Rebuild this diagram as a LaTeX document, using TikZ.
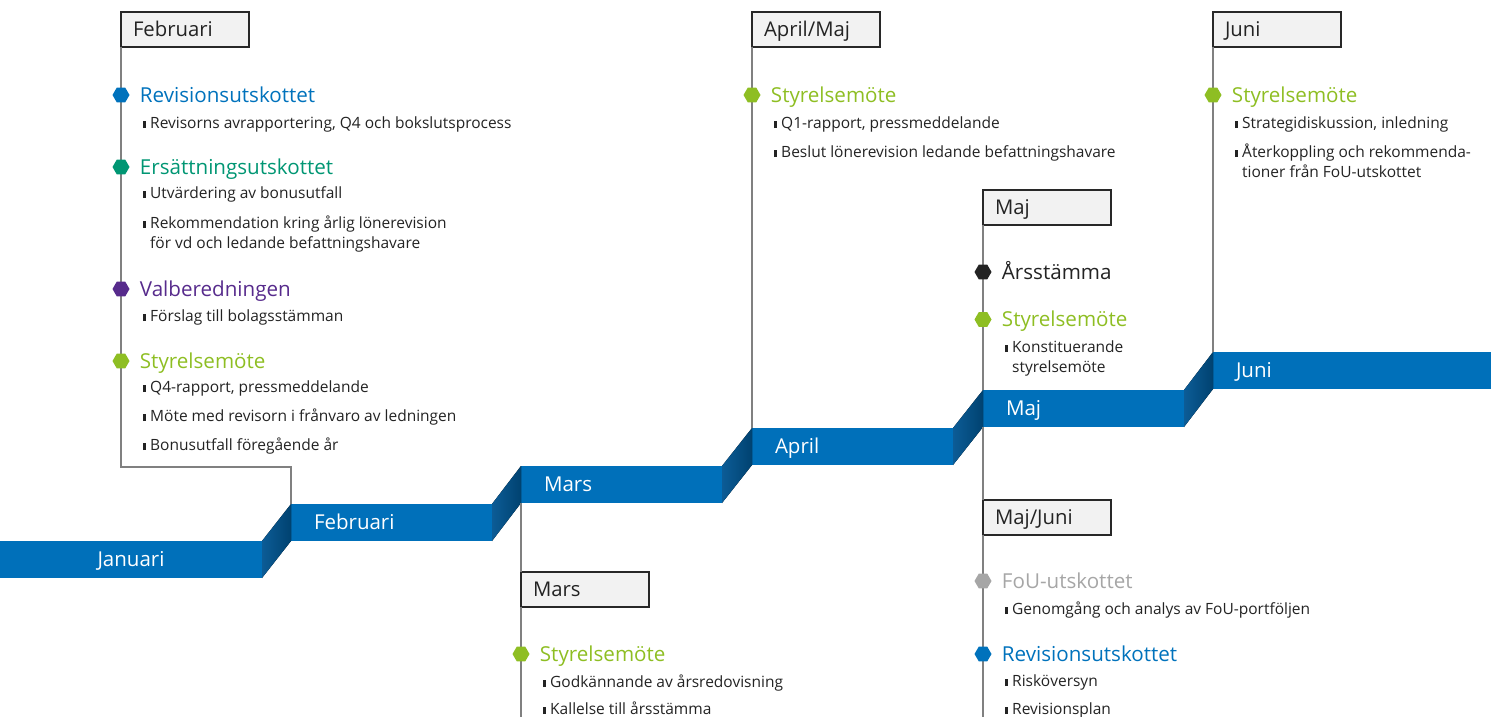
\documentclass[tikz,border=0pt]{standalone}
\usepackage{fontspec}
\setmainfont{Open Sans}
\usetikzlibrary{positioning,shapes.geometric}
\definecolor{barblue}{RGB}{0,112,186}
\definecolor{slantlight}{RGB}{12,92,150}
\definecolor{slantdark}{RGB}{0,66,112}
\definecolor{boxgrey}{RGB}{242,242,242}
\definecolor{boxline}{RGB}{40,40,40}
\definecolor{linegrey}{RGB}{128,128,128}
\definecolor{txt}{RGB}{35,35,35}
\definecolor{cblue}{RGB}{0,114,188}
\definecolor{cteal}{RGB}{0,150,115}
\definecolor{cpurple}{RGB}{87,43,140}
\definecolor{clime}{RGB}{142,190,35}
\definecolor{cgrey}{RGB}{166,166,166}
\definecolor{cblack}{RGB}{35,35,35}
\newcommand{\blt}{\llap{\rule{3pt}{7pt}\hspace{4.5pt}}}

\begin{document}
\begin{tikzpicture}[x=1pt,y=-1pt,
    bar/.style={fill=barblue,text=white,anchor=north west,minimum height=37pt,outer sep=0pt,inner xsep=23pt,inner ysep=0pt,text width=155pt,align=left,text height=14pt,text depth=0pt,font=\fontsize{20.5}{24}\selectfont},
    slant/.style={left color=slantlight,right color=slantdark},
    mbox/.style={draw=boxline,line width=1.2pt,fill=boxgrey,anchor=north west,minimum height=35pt,outer sep=0pt,inner xsep=12pt,inner ysep=0pt,text width=104pt,align=left,text height=14pt,text depth=0pt,text=txt,font=\fontsize{20.3}{24}\selectfont},
    vline/.style={draw=linegrey,line width=1.5pt},
    hexa/.style={regular polygon,regular polygon sides=6,minimum size=17pt,inner sep=0pt},
    head/.style={anchor=west,inner sep=0pt,text height=14.5pt,text depth=0pt,font=\fontsize{20.6}{24}\selectfont},
    item/.style={anchor=base west,inner sep=0pt,align=left,text=txt,font=\fontsize{15.5}{20.6}\selectfont}]
    \useasboundingbox (0,0) rectangle (1491,717) ;
    % staircase
    \node[bar,text width=216pt,align=center] (jan) at (0,541) {Januari} ;
    \node[bar] (feb) at (291,504) {Februari} ;
    \node[bar] (mar) at (521,466) {Mars} ;
    \node[bar] (apr) at (752,428) {April} ;
    \node[bar] (maj) at (983,390) {Maj} ;
    \node[bar,text width=232pt] (jun) at (1213,352) {Juni} ;
    \fill[slant] (jan.south east) -- (jan.north east) -- (feb.north west) -- (feb.south west) -- cycle ;
    \fill[slant] (feb.south east) -- (feb.north east) -- (mar.north west) -- (mar.south west) -- cycle ;
    \fill[slant] (mar.south east) -- (mar.north east) -- (apr.north west) -- (apr.south west) -- cycle ;
    \fill[slant] (apr.south east) -- (apr.north east) -- (maj.north west) -- (maj.south west) -- cycle ;
    \fill[slant] (maj.south east) -- (maj.north east) -- (jun.north west) -- (jun.south west) -- cycle ;
    % month boxes
    \node[mbox] (bfeb) at (121,12) {Februari} ;
    \node[mbox] (bapr) at (752,12) {April/Maj} ;
    \node[mbox] (bjun) at (1213,12) {Juni} ;
    \node[mbox] (bmaj) at (983,190) {Maj} ;
    \node[mbox] (bmjn) at (983,500) {Maj/Juni} ;
    \node[mbox] (bmar) at (521,572) {Mars} ;
    \coordinate (fturn) at (121,467) ;
    \coordinate (marend) at (521,717) ;
    \coordinate (mjnend) at (983,717) ;
    \draw[vline] (bfeb.south west) -- (fturn) -| (feb.north west) ;
    \draw[vline] (bapr.south west) -- (apr.north west) ;
    \draw[vline] (bjun.south west) -- (jun.north west) ;
    \draw[vline] (bmaj.south west) -- (maj.north west) ;
    \draw[vline] (maj.south west) -- (bmjn.north west) ;
    \draw[vline] (bmjn.south west) -- (mjnend) ;
    \draw[vline] (mar.south west) -- (bmar.north west) ;
    \draw[vline] (bmar.south west) -- (marend) ;
    % februari
    \node[hexa,fill=cblue] (fb1) at (121,95) {} ;
    \node[head,text=cblue,right=10pt of fb1] (fbt1) {Revisionsutskottet} ;
    \node[item] (fbi1) at (150,128) {\blt Revisorns avrapportering, Q4 och bokslutsprocess} ;
    \node[hexa,fill=cteal] (fb2) at (121,167) {} ;
    \node[head,text=cteal,right=10pt of fb2] (fbt2) {Ersättningsutskottet} ;
    \node[item] (fbi2) at (150,198) {\blt Utvärdering av bonusutfall} ;
    \node[item] (fbi3) at (150,248.6) {\blt Rekommendation kring årlig lönerevision\\för vd och ledande befattningshavare} ;
    \node[hexa,fill=cpurple] (fb3) at (121,289) {} ;
    \node[head,text=cpurple,right=10pt of fb3] (fbt3) {Valberedningen} ;
    \node[item] (fbi4) at (150,321) {\blt Förslag till bolagsstämman} ;
    \node[hexa,fill=clime] (fb4) at (121,361) {} ;
    \node[head,text=clime,right=10pt of fb4] (fbt4) {Styrelsemöte} ;
    \node[item] (fbi5) at (150,392) {\blt Q4-rapport, pressmeddelande} ;
    \node[item] (fbi6) at (150,421) {\blt Möte med revisorn i frånvaro av ledningen} ;
    \node[item] (fbi7) at (150,450) {\blt Bonusutfall föregående år} ;
    % mars
    \node[hexa,fill=clime] (mr1) at (521,654) {} ;
    \node[head,text=clime,right=10pt of mr1] (mrt1) {Styrelsemöte} ;
    \node[item] (mri1) at (550,687) {\blt Godkännande av årsredovisning} ;
    \node[item] (mri2) at (550,714) {\blt Kallelse till årsstämma} ;
    % april/maj
    \node[hexa,fill=clime] (ap1) at (752,95) {} ;
    \node[head,text=clime,right=10pt of ap1] (apt1) {Styrelsemöte} ;
    \node[item] (api1) at (781,128) {\blt Q1-rapport, pressmeddelande} ;
    \node[item] (api2) at (781,157) {\blt Beslut lönerevision ledande befattningshavare} ;
    % maj
    \node[hexa,fill=cblack] (mj1) at (983,272) {} ;
    \node[head,text=cblack,right=10pt of mj1] (mjt1) {Årsstämma} ;
    \node[hexa,fill=clime] (mj2) at (983,319.5) {} ;
    \node[head,text=clime,right=10pt of mj2] (mjt2) {Styrelsemöte} ;
    \node[item] (mji1) at (1012,372.6) {\blt Konstituerande\\styrelsemöte} ;
    % maj/juni
    \node[hexa,fill=cgrey] (mn1) at (983,581) {} ;
    \node[head,text=cgrey,right=10pt of mn1] (mnt1) {FoU-utskottet} ;
    \node[item] (mni1) at (1012,614) {\blt Genomgång och analys av FoU-portföljen} ;
    \node[hexa,fill=cblue] (mn2) at (983,654) {} ;
    \node[head,text=cblue,right=10pt of mn2] (mnt2) {Revisionsutskottet} ;
    \node[item] (mni2) at (1012,686) {\blt Risköversyn} ;
    \node[item] (mni3) at (1012,714) {\blt Revisionsplan} ;
    % juni
    \node[hexa,fill=clime] (jn1) at (1213,95) {} ;
    \node[head,text=clime,right=10pt of jn1] (jnt1) {Styrelsemöte} ;
    \node[item] (jni1) at (1242,128) {\blt Strategidiskussion, inledning} ;
    \node[item] (jni2) at (1242,177.6) {\blt Återkoppling och rekommenda-\\tioner från FoU-utskottet} ;
\end{tikzpicture}
\end{document}
